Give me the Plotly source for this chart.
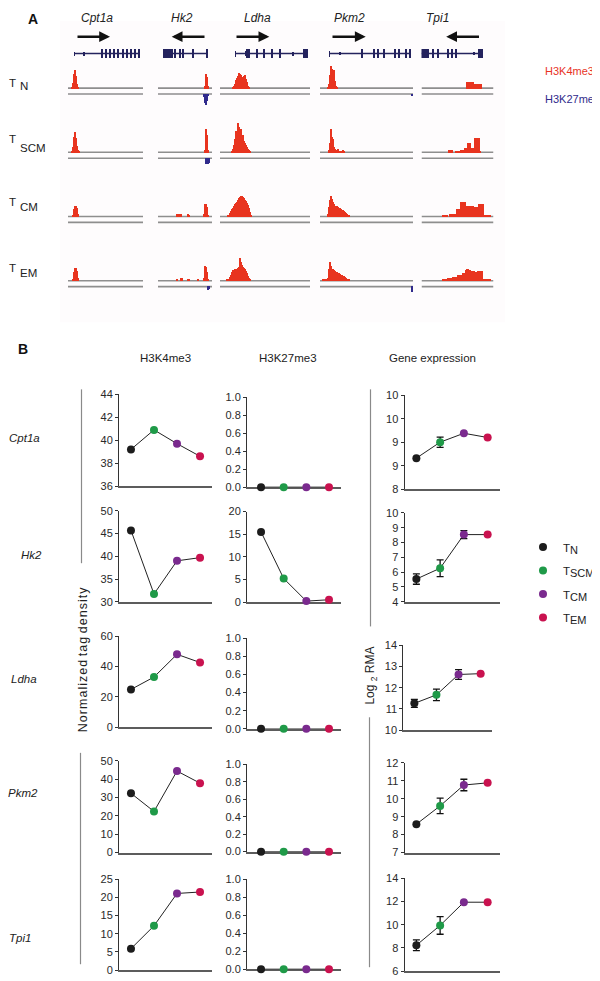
import plotly.graph_objects as go

# ================== data: panel B ==================
GENES = ["Cpt1a", "Hk2", "Ldha", "Pkm2", "Tpi1"]
SUBSETS = ["N", "SCM", "CM", "EM"]
SUBSET_COLORS = ["#1c1c1c", "#1f9a48", "#7a2a8e", "#c9124f"]
X_POS = [1, 2, 3, 4]

H3K4ME3 = [
    [39.2, 40.9, 39.7, 38.6],
    [45.7, 31.7, 39.0, 39.7],
    [24.9, 33.1, 48.1, 42.7],
    [32.3, 22.4, 44.4, 37.8],
    [5.9, 12.2, 21.1, 21.5],
]
H3K27ME3 = [
    [0, 0, 0, 0],
    [15.5, 5.2, 0.2, 0.5],
    [0, 0, 0, 0],
    [0, 0, 0, 0],
    [0, 0, 0, 0],
]
EXPR = [
    [8.66, 9.0, 9.19, 9.1],
    [5.53, 6.26, 8.53, 8.53],
    [11.26, 11.66, 12.62, 12.66],
    [8.58, 9.6, 10.76, 10.88],
    [8.23, 9.94, 11.94, 11.94],
]
EXPR_ERR = [
    [0, 0.11, 0, 0],
    [0.35, 0.56, 0.27, 0],
    [0.19, 0.27, 0.23, 0],
    [0, 0.43, 0.32, 0],
    [0.47, 0.76, 0, 0],
]

K4_RANGE = [[36, 44], [30, 50], [0, 60], [0, 50], [0, 25]]
K4_DTICK = [2, 5, 20, 10, 5]
K27_RANGE = [[0, 1], [0, 20], [0, 1], [0, 1], [0, 1]]
K27_DTICK = [0.2, 5, 0.2, 0.2, 0.2]
EXPR_RANGE = [[8, 10], [4, 10], [10, 14], [7, 12], [6, 14]]
EXPR_DTICK = [0.5, 1, 1, 1, 2]
EXPR_TICKTEXT_CPT1A = ["8", "9", "9", "10", "10"]

# ================== data: panel A (genome browser) ==================
LOCUS_LEN = [75, 54, 90, 93, 72]
GENE_SPAN = [(6, 72), (5, 49), (15, 87), (9, 90), (0, 61)]
GENE_ARROW = [(8, 42), (48, 13.7), (15, 49.3), (11, 45.7), (59, 24.7)]  # tail -> head

# exons: (start, end, half thickness)
EXONS_CPT1A = [(6, 6.8, 2), (15.8, 17, 2), (33, 34.4, 4.5), (37.3, 38.7, 4.5), (41.3, 42.7, 4.5),
               (45.6, 47, 4.5), (49.6, 51, 4.5), (54, 55.4, 4.5), (58, 59.4, 4.5),
               (62.3, 63.7, 4.5), (66.3, 68, 4.5), (69.5, 72, 4.5)]
EXONS_HK2 = [(4.7, 12.5, 4.5), (13.3, 15.3, 4.5), (16.3, 18.3, 4.5), (21.5, 22.8, 4.5),
             (24.5, 25.7, 4.5), (34, 35.3, 4.5), (48, 49.3, 4.5)]
EXONS_LDHA = [(15, 15.8, 3), (25, 26, 2.5), (26, 29.5, 4.5), (36.3, 37.5, 4.5), (43, 44.2, 4.5),
              (51.3, 52.5, 4.5), (59.5, 60.7, 4.5), (72.5, 74, 2), (83, 88, 4.5)]
EXONS_PKM2 = [(9, 9.8, 3), (19.5, 20.7, 1.5), (41.5, 43, 4.5), (53, 54.3, 4.5), (57, 58.3, 4.5),
              (63, 64.3, 4.5), (74.5, 76, 4.5), (78, 79.3, 4.5), (85.8, 87, 4.5), (89, 90.3, 4.5)]
EXONS_TPI1 = [(-0.8, 7, 4.3), (10, 11.3, 4.5), (15, 16.3, 4.5), (25.2, 26.5, 4.5),
              (29.5, 30.8, 4.5), (33.5, 34.8, 4.5), (51.5, 53, 1.5), (55.5, 60.7, 4.5)]
EXONS = [EXONS_CPT1A, EXONS_HK2, EXONS_LDHA, EXONS_PKM2, EXONS_TPI1]

# coverage: per gene a list of (first bin, bin heights)
K4_TN = [
    [(4, [2, 6, 15, 19, 13, 5, 2])],
    [(47, [3, 15, 12, 3])],
    [(13, [2, 3, 5, 9, 11, 13, 16, 15, 14, 12, 12, 13, 14, 10, 7, 3, 2])],
    [(8, [2, 5, 14, 23, 20, 17, 19, 8, 3, 1])],
    [(45, [7, 7, 7, 7, 7, 7, 7, 5, 5, 5, 0, 5, 5, 5, 5])],
]
K27_TN = [[], [(46, [3, 9, 11, 7, 2])], [], [(92, [2])], []]

K4_TSCM = [
    [(4, [2, 6, 16, 21, 15, 7, 3, 1])],
    [(47, [3, 24, 18, 3])],
    [(12, [2, 4, 8, 14, 22, 18, 30, 26, 20, 24, 15, 18, 12, 10, 8, 6, 4, 3, 2])],
    [(9, [3, 10, 24, 16, 14, 6, 4, 3, 3, 4, 2, 1, 0, 1, 3, 2])],
    [(27, [3, 3, 3, 3, 0, 0, 0, 1, 1, 1, 2, 2, 3, 3, 3, 3, 5, 5, 5, 10, 10, 10, 5, 5, 5, 5,
           15, 15, 15, 15, 15, 1])],
]
K27_TSCM = [[], [(48, [6, 6, 6, 5])], [], [], []]

K4_TCM = [
    [(5, [2, 8, 11, 11, 9, 3])],
    [(19, [3, 3]), (22, [3, 3]), (30, [3, 2]), (46, [3, 13, 13, 10, 2])],
    [(8, [2, 2, 4, 6, 8, 9, 11, 13, 14, 15, 17, 19, 20, 21, 21, 20, 19, 17, 16, 14, 12, 9, 5, 2])],
    [(8, [3, 10, 17, 21, 18, 15, 13, 11, 11, 11, 10, 9, 9, 8, 7, 7, 6, 5, 4, 3, 2, 1])],
    [(21, [2, 2, 2, 2, 2, 0, 0, 3, 3, 3, 3, 3, 3, 3, 8, 8, 8, 8, 15, 15, 15, 15, 15, 11, 11, 11,
           11, 11, 11, 11, 11, 10, 10, 10, 10, 10, 13, 13, 13, 13, 13, 1, 1, 1, 1, 1, 1, 1])],
]
K27_TCM = [[], [], [], [], []]

K4_TEM = [
    [(5, [2, 9, 13, 13, 10, 3])],
    [(19, [2]), (23, [3, 3]), (30, [2, 2]), (40, [1]), (46, [3, 15, 14, 9, 2])],
    [(7, [1, 1, 2, 4, 6, 9, 11, 11, 12, 12, 12, 13, 14, 23, 19, 16, 14, 13, 12, 10, 8, 5, 3, 1])],
    [(0, [0, 0, 0, 1, 1, 1, 1, 1, 3, 12, 19, 15, 9, 12, 11, 10, 9, 9, 8, 8, 7, 6, 6, 5, 5, 4, 3,
          2, 1, 1])],
    [(21, [1, 1, 1, 1, 2, 3, 3, 3, 3, 3, 4, 4, 4, 4, 4, 6, 6, 6, 6, 6, 8, 8, 8, 11, 12, 12, 11,
           11, 10, 10, 10, 10, 9, 9, 9, 10, 10, 10, 10, 10, 2, 2, 2, 2, 1, 1, 1, 1])],
]
K27_TEM = [[], [(50, [4, 3])], [], [(92, [6])], []]

K4_TRACKS = [K4_TN, K4_TSCM, K4_TCM, K4_TEM]
K27_TRACKS = [K27_TN, K27_TSCM, K27_TCM, K27_TEM]

# ================== layout constants (pixels of the page) ==================
W, H = 600, 981
OFF = 8  # the page body margin pushes the figure 8px right/down
FONT = "Liberation Sans, Arial, Helvetica, sans-serif"
RED = "#e8341f"
BLUE = "#302b8c"
NAVY = "#24235e"
TRACK_GRAY = "#8e8e8e"
AXIS_COL = "#333333"

COL_START = [68, 158, 220, 320, 421.5]
TRACK_BASE = [83, 148, 213, 278]
GENE_ROW_Y = 48
K27_OFFSET = 6

# panel B subplot boxes
COL_X = [(119, 212), (247, 341), (404.5, 499.5)]
COL_XRANGE = [[0.48, 4.52], [0.38, 4.53], [0.5, 4.5]]
ROW_Y = [
    [(393, 486), (511, 603), (638, 730), (764, 857), (884, 976)],
    [(396, 487), (511.7, 603.3), (640, 731.7), (767.7, 856), (884, 975)],
    [(394, 489), (513, 603), (647, 733), (766, 857), (883, 977)],
]


def fx(p):
    return (p - OFF) / W


def fy(p):
    return 1 - (p - OFF) / H


fig = go.Figure()
layout = {}
shapes = []
annotations = []

# ================== panel B ==================
for r in range(5):
    for c in range(3):
        k = r * 3 + c + 1
        suf = "" if k == 1 else str(k)
        x0, x1 = COL_X[c]
        if c == 2 and r == 2:
            x0, x1 = 403.3, 491.7
        top, bot = ROW_Y[c][r]
        yax = dict(
            domain=[fy(bot), fy(top)], anchor="x" + suf,
            showline=True, linecolor=AXIS_COL, linewidth=1,
            ticks="outside", ticklen=3, tickwidth=1, tickcolor=AXIS_COL,
            showgrid=False, zeroline=False,
            tickfont=dict(size=11, color="#2a2a2a", family=FONT),
        )
        if c == 0:
            yax.update(range=K4_RANGE[r], tickmode="linear", tick0=K4_RANGE[r][0], dtick=K4_DTICK[r])
            vals = H3K4ME3[r]
        elif c == 1:
            yax.update(range=K27_RANGE[r], tickmode="linear", tick0=0, dtick=K27_DTICK[r])
            if K27_DTICK[r] < 1:
                yax["tickformat"] = ".1f"
            vals = H3K27ME3[r]
        else:
            lo, hi = EXPR_RANGE[r]
            if r == 0:
                tv = [lo + i * EXPR_DTICK[r] for i in range(len(EXPR_TICKTEXT_CPT1A))]
                yax.update(range=[lo, hi], tickmode="array", tickvals=tv, ticktext=EXPR_TICKTEXT_CPT1A)
            else:
                yax.update(range=[lo, hi], tickmode="linear", tick0=lo, dtick=EXPR_DTICK[r])
            vals = EXPR[r]
        layout["yaxis" + suf] = yax
        layout["xaxis" + suf] = dict(
            domain=[fx(x0), fx(x1)], anchor="y" + suf, range=COL_XRANGE[c],
            showline=True, linecolor="#5c5c5c", linewidth=1.7,
            showticklabels=False, ticks="", showgrid=False, zeroline=False,
            layer="below traces",
        )
        tr = dict(
            x=X_POS, y=vals, mode="lines+markers",
            line=dict(color="#222222", width=1),
            marker=dict(size=8, color=SUBSET_COLORS),
            cliponaxis=False, showlegend=False, hoverinfo="skip",
            xaxis="x" + suf, yaxis="y" + suf,
        )
        if c == 2:
            tr["error_y"] = dict(type="data", array=EXPR_ERR[r], color="#111111",
                                 thickness=1.3, width=3.5)
        fig.add_trace(go.Scatter(**tr))

# legend entries
for s, col in zip(SUBSETS, SUBSET_COLORS):
    fig.add_trace(go.Scatter(
        x=[None], y=[None], mode="markers",
        name=f'T<sub><span style="font-size:11px">{s}</span></sub>',
        marker=dict(size=8, color=col), legendgroup=s, showlegend=True,
    ))

# ================== panel A ==================
GX = [f"x{16 + g}" for g in range(5)]
GENE_Y = "y16"
COND_Y = [f"y{17 + i}" for i in range(4)]

for g in range(5):
    s = COL_START[g]
    layout[f"xaxis{16 + g}"] = dict(
        domain=[fx(s), fx(s + LOCUS_LEN[g])], range=[0, LOCUS_LEN[g]],
        visible=False, anchor="free", position=0, fixedrange=True,
    )
layout["yaxis16"] = dict(domain=[fy(GENE_ROW_Y + 12), fy(GENE_ROW_Y - 28)], range=[-12, 28],
                         visible=False, anchor="free", position=0, fixedrange=True)
for i, b in enumerate(TRACK_BASE):
    layout[f"yaxis{17 + i}"] = dict(domain=[fy(b + 20), fy(b - 40)], range=[-20, 40],
                                    visible=False, anchor="free", position=0, fixedrange=True)

for g in range(5):
    g0, g1 = GENE_SPAN[g]
    fig.add_trace(go.Scatter(
        x=[g0, g1], y=[0, 0], mode="lines", line=dict(color=NAVY, width=1.3),
        xaxis=GX[g], yaxis=GENE_Y, showlegend=False, hoverinfo="skip", cliponaxis=False,
    ))
    ex = EXONS[g]
    fig.add_trace(go.Bar(
        x=[(a + e) / 2 for a, e, h in ex], y=[2 * h for a, e, h in ex],
        base=[-h for a, e, h in ex], width=[e - a for a, e, h in ex],
        marker=dict(color=NAVY, line=dict(width=0)),
        xaxis=GX[g], yaxis=GENE_Y, showlegend=False, hoverinfo="skip", cliponaxis=False,
    ))
    tail, head = GENE_ARROW[g]
    annotations.append(dict(
        x=head, y=17, ax=tail, ay=17, xref=GX[g], yref=GENE_Y, axref=GX[g], ayref=GENE_Y,
        text="", showarrow=True, arrowhead=2, arrowsize=0.9, arrowwidth=2.4, arrowcolor="#111111",
    ))

    for i in range(4):
        for y0 in (0, -K27_OFFSET):
            shapes.append(dict(
                type="line", xref=GX[g], yref=COND_Y[i], x0=0, x1=LOCUS_LEN[g], y0=y0, y1=y0,
                line=dict(color=TRACK_GRAY, width=1.6), layer="below",
            ))
        xs, ys = [], []
        for start, hts in K4_TRACKS[i][g]:
            for j, h in enumerate(hts):
                if h > 0:
                    xs.append(start + j + 0.5)
                    ys.append(h)
        if xs:
            fig.add_trace(go.Bar(
                x=xs, y=ys, base=0, width=1.05,
                marker=dict(color=RED, line=dict(width=0)),
                xaxis=GX[g], yaxis=COND_Y[i], showlegend=False, hoverinfo="skip",
            ))
        xs, ys = [], []
        for start, hts in K27_TRACKS[i][g]:
            for j, h in enumerate(hts):
                xs.append(start + j + 0.5)
                ys.append(-h)
        if xs:
            fig.add_trace(go.Bar(
                x=xs, y=ys, base=-K27_OFFSET, width=1.05,
                marker=dict(color=BLUE, line=dict(width=0)),
                xaxis=GX[g], yaxis=COND_Y[i], showlegend=False, hoverinfo="skip",
            ))

# panel A faint background
shapes.append(dict(type="rect", xref="paper", yref="paper", x0=fx(60), x1=fx(505),
                   y0=fy(320), y1=fy(15), fillcolor="#fefcfd", line=dict(width=0), layer="below"))


# ================== text ==================
def txt(x, y, text, size=11.5, color="#222222", italic=False, bold=False,
        xanchor="center", angle=0):
    t = text
    if bold:
        t = f"<b>{t}</b>"
    if italic:
        t = f"<i>{t}</i>"
    annotations.append(dict(
        x=fx(x), y=fy(y), xref="paper", yref="paper", text=t, showarrow=False,
        xanchor=xanchor, yanchor="middle", textangle=angle,
        font=dict(size=size, color=color, family=FONT),
    ))


txt(32.5, 13, "A", size=14, bold=True, color="#111111")
for name, cx in zip(GENES, [97, 182, 257, 349, 437]):
    txt(cx, 12.5, name, size=12, italic=True)

# condition labels, panel A: "T" with a lowered subset name
COND_LABEL_POS = [(78.3, 81), (134.5, 144), (198.3, 203), (265, 270)]
for s, (ty, sy) in zip(SUBSETS, COND_LABEL_POS):
    txt(12.5, ty, "T", size=11.5)
    txt(18.3, sy, s, size=11.5, xanchor="left")

txt(543, 66, "H3K4me3", size=11, color=RED, xanchor="left")
txt(543, 94, "H3K27me3", size=11, color=BLUE, xanchor="left")

txt(22.5, 347, "B", size=14, bold=True, color="#111111")
txt(166, 356, "H3K4me3", size=11.5)
txt(288, 356, "H3K27me3", size=11.5)
txt(432.7, 356, "Gene expression", size=11.5)

for name, (cx, cy) in zip(GENES, [(24.7, 437), (31.7, 555.5), (23.8, 681.5), (23, 797), (19.5, 943.5)]):
    txt(cx, cy, name, size=11.5, italic=True)

HS = "\u200a"
spaced = " ".join(HS.join(w) for w in "Normalized tag density".split(" "))
txt(83.3, 661, spaced, size=12.5, angle=-90)
txt(371.3, 677.5, "Log <sub>2</sub> RMA", size=12, angle=-90)

for x, y0, y1 in [(81.5, 388, 564), (80.5, 756, 970), (370.5, 388, 628), (369.5, 720, 973)]:
    shapes.append(dict(type="line", xref="paper", yref="paper", x0=fx(x), x1=fx(x),
                       y0=fy(y1), y1=fy(y0), line=dict(color="#8a8a8a", width=1.2)))

fig.update_layout(
    **layout,
    width=W, height=H,
    margin=dict(l=0, r=0, t=0, b=0),
    paper_bgcolor="white", plot_bgcolor="rgba(0,0,0,0)",
    barmode="overlay", bargap=0,
    showlegend=True,
    legend=dict(
        x=fx(523), y=fy(533), xanchor="left", yanchor="top",
        font=dict(size=11.5, color="#222222", family=FONT),
        bgcolor="rgba(0,0,0,0)", tracegroupgap=4.5, itemclick=False, itemdoubleclick=False,
    ),
    shapes=shapes,
    annotations=annotations,
    font=dict(family=FONT),
)

fig.write_html("out.html")
